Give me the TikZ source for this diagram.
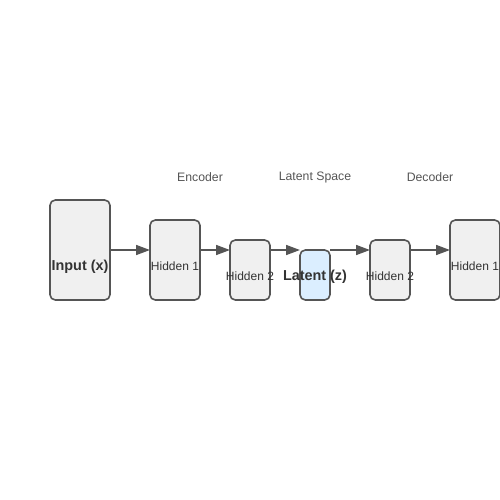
\documentclass[tikz,border=0pt]{standalone}
\usepackage{fontspec}
\setmainfont{Liberation Sans}
\usetikzlibrary{arrows.meta}
\definecolor{edgegray}{HTML}{555555}
\definecolor{boxfill}{HTML}{F0F0F0}
\definecolor{latfill}{HTML}{DBEEFF}
\definecolor{txt}{HTML}{333333}
\definecolor{lbl}{HTML}{555555}
\begin{document}
\begin{tikzpicture}[x=0.75pt,y=-0.75pt,
  layer/.style={draw=edgegray,fill=boxfill,line width=1.2pt,rounded corners=4pt,inner sep=0pt,outer sep=0pt},
  lat/.style={layer,fill=latfill},
  ltext/.style={text=txt,font=\fontsize{9}{10}\selectfont,inner sep=0pt},
  btext/.style={text=txt,font=\fontsize{10.8}{12}\selectfont\bfseries,inner sep=0pt},
  head/.style={text=lbl,font=\fontsize{9.2}{10}\selectfont,inner sep=0pt},
  conn/.style={draw=edgegray,line width=1.2pt,-{Triangle[length=10.5pt,width=7.5pt]},fill=edgegray}]
\useasboundingbox (0,0) rectangle (500,500);
\node[layer,minimum width=45pt,minimum height=75pt] (in) at (80,250) {};
\node[layer,minimum width=37.5pt,minimum height=60pt] (e1) at (175,260) {};
\node[layer,minimum width=30pt,minimum height=45pt] (e2) at (250,270) {};
\node[lat,minimum width=22.5pt,minimum height=37.5pt] (z) at (315,275) {};
\node[layer,minimum width=30pt,minimum height=45pt] (d2) at (390,270) {};
\node[layer,minimum width=37.5pt,minimum height=60pt] (d1) at (475,260) {};
\node[btext] (tin) at (80,266.5) {Input (x)};
\node[ltext] (te1) at (175,266) {Hidden 1};
\node[ltext] (te2) at (250,276) {Hidden 2};
\node[btext] (tz) at (315,276.5) {Latent (z)};
\node[ltext] (td2) at (390,276) {Hidden 2};
\node[ltext] (td1) at (475,266) {Hidden 1};
\node[head] (henc) at (200,177.5) {Encoder};
\node[head] (hlat) at (315,177.5) {Latent Space};
\node[head] (hdec) at (430,177.5) {Decoder};
\coordinate (row) at (0,250);
\draw[conn] (in.east |- row) -- (e1.west |- row);
\draw[conn] (e1.east |- row) -- (e2.west |- row);
\draw[conn] (e2.east |- row) -- (z.west |- row);
\draw[conn] (z.east |- row) -- (d2.west |- row);
\draw[conn] (d2.east |- row) -- (d1.west |- row);
\end{tikzpicture}
\end{document}
